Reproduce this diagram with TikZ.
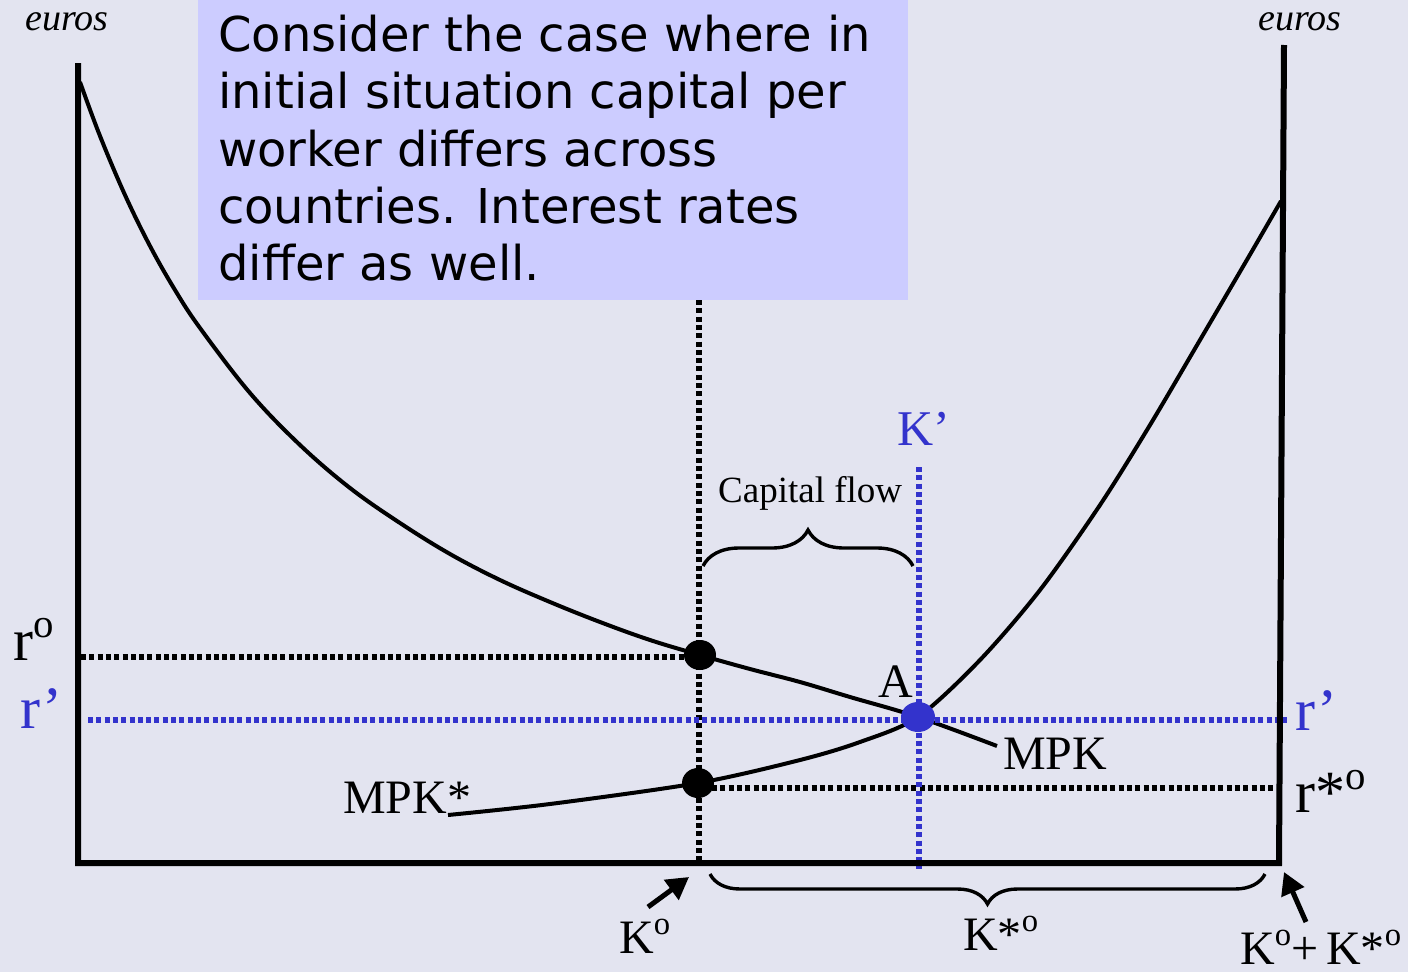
\documentclass[tikz,border=0pt]{standalone}
\usepackage{fontspec}
\setmainfont{Liberation Serif}
\newfontfamily\boxfont{DejaVu Sans}
\usetikzlibrary{decorations.pathreplacing,arrows.meta}
\definecolor{bgcol}{HTML}{E3E4F0}
\definecolor{boxcol}{HTML}{CCCCFF}
\definecolor{ablue}{HTML}{3333CC}
\newcommand\supo{\raisebox{0.38em}{\scalebox{0.68}{o}}}
\begin{document}
\begin{tikzpicture}[x=1pt,y=-1pt,
  axisline/.style={line width=6pt, line join=miter},
  curveline/.style={line width=4pt, line join=round},
  blkdots/.style={line width=5.5pt, dash pattern=on 5pt off 3.3pt},
  bludots/.style={blkdots, draw=ablue},
  lbl/.style={inner sep=0pt, anchor=base west, font=\fontsize{48}{48}\selectfont},
  rlbl/.style={lbl, font=\fontsize{60}{60}\selectfont},
  smalllbl/.style={lbl, font=\fontsize{37}{37}\selectfont},
  eurolbl/.style={inner sep=0pt, font=\fontsize{38}{38}\selectfont\itshape},
  bracestyle/.style={line width=3.4pt, decorate},
  pointer/.style={line width=5pt, -{Triangle[length=22pt, width=24pt]}}
]
\fill[bgcol] (0,0) rectangle (1408,972);
\useasboundingbox (0,0) rectangle (1408,972);

% text box
\node[fill=boxcol, inner sep=0pt, anchor=north west, minimum width=710pt, minimum height=300pt] (box) at (198,0) {};
\node[anchor=north west, align=left, inner sep=0pt, font=\boxfont\fontsize{48}{57.3}\selectfont] (txt) at (218,15)
 {Consider the case where in\\initial situation capital per\\worker differs across\\countries. Interest rates\\differ as well.};

% key points
\coordinate (P0) at (700,655);
\coordinate (S0) at (698,783);
\coordinate (A) at (918,717);

% curves
\draw[curveline] plot[smooth, tension=0.6] coordinates {(80,82) (100,136) (125,195) (150,246) (175,290) (200,328) (250,393) (300,445) (350,488) (400,523) (450,554) (500,580) (550,602) (600,622) (650,640) (P0) (750,669) (800,682) (850,697) (A) (997,746)};
\draw[curveline] plot[smooth, tension=0.5] coordinates {(448,815) (550,804) (S0) (800,760) (860,742) (A) (980,660) (1040,590) (1100,505) (1150,425) (1200,340) (1248,258) (1281,201)};

% dotted guides
\draw[blkdots] (81,657) -- (700,657);
\draw[blkdots] (712,788) -- (1275,788);
\draw[blkdots] (699,300) -- (699,862);
\draw[bludots] (88,720) -- (1287,720);
\draw[bludots] (919,467) -- (919,869);

% axes
\coordinate (o1) at (78,63);
\coordinate (o2) at (78,863);
\coordinate (o3) at (1279,863);
\coordinate (o4) at (1284,45);
\draw[axisline] (o1) -- (o2) -- (o3) -- (o4);

% dots
\fill (P0) ellipse [x radius=16, y radius=15];
\fill (S0) ellipse [x radius=16, y radius=15];
\fill[ablue] (A) ellipse [x radius=17, y radius=15];

% braces
\draw[bracestyle, decoration={brace, amplitude=36pt}] (703,566) -- (913,566);
\draw[bracestyle, decoration={brace, amplitude=30pt}] (1265,874) -- (710,874);

% labels
\node[eurolbl] (eurL) at (67,22) {euros};
\node[eurolbl] (eurR) at (1300,22) {euros};
\node[rlbl] (r0) at (13,660) {r\supo};
\node[rlbl, text=ablue] (rpL) at (20,728) {r’};
\node[rlbl, text=ablue] (rpR) at (1295,730) {r’};
\node[rlbl] (rs0) at (1295,812) {r*\supo};
\node[lbl, text=ablue, font=\fontsize{50}{50}\selectfont] (Kp) at (897,445) {K’};
\node[smalllbl] (cf) at (718,502) {Capital flow};
\node[lbl] (Alab) at (878,697) {A};
\node[lbl] (mpk) at (1003,769) {MPK};
\node[lbl] (mpks) at (343,813) {MPK*};
\node[lbl] (K0) at (619,953) {K\supo};
\node[lbl] (Ks0) at (963,950) {K*\supo};
\node[lbl] (Ksum) at (1240,964) {K\supo+\,K*\supo};

% pointers
\coordinate (k0tail) at (648,907);
\coordinate (k0tip) at (689,877);
\coordinate (kstail) at (1306,922);
\coordinate (kstip) at (1284,872);
\draw[pointer] (k0tail) -- (k0tip);
\draw[pointer] (kstail) -- (kstip);
\end{tikzpicture}
\end{document}
